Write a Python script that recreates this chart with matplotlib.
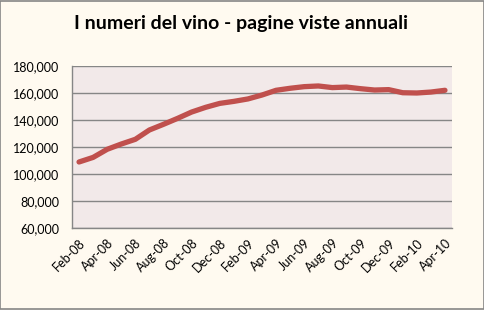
import matplotlib.pyplot as plt
from matplotlib.ticker import FuncFormatter

months = ["Feb-08", "Mar-08", "Apr-08", "May-08", "Jun-08", "Jul-08", "Aug-08",
          "Sep-08", "Oct-08", "Nov-08", "Dec-08", "Jan-09", "Feb-09", "Mar-09",
          "Apr-09", "May-09", "Jun-09", "Jul-09", "Aug-09", "Sep-09", "Oct-09",
          "Nov-09", "Dec-09", "Jan-10", "Feb-10", "Mar-10", "Apr-10"]
views = [108900, 112300, 118300, 122200, 125700, 132600, 136800,
         141200, 145900, 149400, 152300, 153800, 155600, 158500,
         162000, 163500, 164700, 165200, 164000, 164400, 163200,
         162200, 162500, 160200, 160000, 160700, 162000]

plt.rcParams['font.family'] = ['Lato', 'DejaVu Sans']

fig = plt.figure(figsize=(4.85, 3.10), dpi=100, facecolor="#FFFAF0")
ax = fig.add_axes([72/485, 1 - 228/310, 380/485, 162/310])
ax.set_facecolor("#F2E9E9")

x = range(len(months))
ax.plot(x, views, color="#C0504D", linewidth=3.8, solid_capstyle="round")

ax.set_xlim(-0.5, len(months) - 0.5)
ax.set_ylim(60000, 180000)
ax.set_yticks(range(60000, 180001, 20000))
ax.yaxis.set_major_formatter(FuncFormatter(lambda v, p: f"{int(v):,}"))
ax.set_xticks(list(x)[::2])
ax.set_xticklabels(months[::2], rotation=45, ha="right", rotation_mode="anchor")
ax.tick_params(axis="both", length=0, labelsize=9, colors="black")
ax.tick_params(axis="y", pad=9)
ax.tick_params(axis="x", pad=6)

ax.grid(axis="y", color="#868686", linewidth=1)
ax.set_axisbelow(True)
for s in ["top", "right"]:
    ax.spines[s].set_visible(False)
for s in ["left", "bottom"]:
    ax.spines[s].set_color("#868686")
    ax.spines[s].set_linewidth(1)

fig.text(241/485, 1 - 24/310, "I numeri del vino - pagine viste annuali",
         ha="center", va="center", fontsize=14, fontweight="bold")

fig.patches.append(plt.Rectangle((0.001, 0.002), 0.997, 0.995, transform=fig.transFigure,
                                 fill=False, edgecolor="#868686", linewidth=1.2))

fig.savefig("out.png", dpi=100, facecolor=fig.get_facecolor())
